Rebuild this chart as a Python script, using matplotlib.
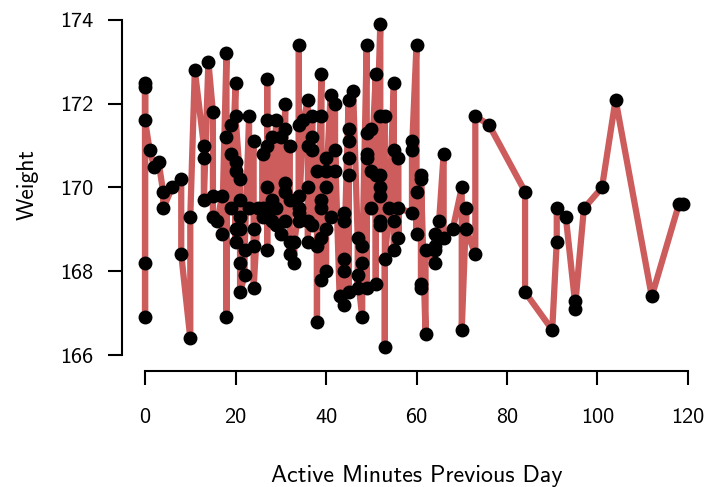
import matplotlib
matplotlib.use("Agg")
import matplotlib.pyplot as plt

plt.rcParams['font.family'] = ['cmss10', 'DejaVu Sans']
plt.rcParams['axes.unicode_minus'] = False

# Active minutes previous day (x) and weight (y), grouped by minute value
minutes_groups = [0, 1, 2, 3, 4, 6, 8, 10, 11, 13, 14, 15, 16, 17, 18, 19, 20, 21, 22, 23, 24,
                  25, 26, 27, 28, 29, 30, 31, 32, 33, 34, 35, 36, 37, 38, 39, 40, 41, 42, 43, 44,
                  45, 46, 47, 48, 49, 50, 51, 52, 53, 54, 55, 56, 59, 60, 61, 62, 64, 65, 66, 68,
                  70, 71, 73, 76, 84, 90, 91, 93, 95, 97, 101, 104, 112, 118, 119]
weight_groups = [
    [172.4, 166.9, 168.2, 172.5, 171.6],
    [170.9],
    [170.5],
    [170.6],
    [169.9, 169.5],
    [170.0],
    [170.2, 168.4],
    [166.4, 169.3],
    [172.8],
    [171.0, 170.7, 169.7],
    [173.0],
    [171.8, 169.8, 169.3],
    [169.2],
    [169.8, 168.9],
    [173.2, 166.9, 171.2],
    [171.5, 170.8, 169.5],
    [172.5, 170.6, 170.4, 169.0, 168.7, 171.7],
    [170.2, 169.7, 169.3, 169.0, 168.2, 167.5],
    [167.9, 168.5],
    [171.7, 169.5],
    [171.1, 169.0, 168.6, 167.6],
    [169.5],
    [169.3, 170.8, 169.5],
    [169.5, 172.6, 168.5, 171.6, 170.0, 171.0, 169.3],
    [171.2, 169.7, 169.2, 169.5],
    [171.6, 169.5, 169.1],
    [171.2, 168.9],
    [172.0, 170.1, 169.2, 171.4, 169.9],
    [171.0, 168.4, 169.7, 168.7],
    [168.2, 168.7],
    [169.5, 173.4, 169.2, 171.5, 169.8, 169.4],
    [171.6],
    [172.1, 168.7, 171.0, 169.2, 170.0],
    [171.7, 169.1, 171.2, 170.9],
    [170.4, 166.8, 168.6],
    [172.7, 167.8, 171.7, 168.8, 169.7, 169.5],
    [170.7, 168.0, 170.4, 169.0, 170.0],
    [172.2, 169.3],
    [172.0, 170.4, 170.9],
    [167.4],
    [169.4, 167.2, 169.2, 168.0, 168.3],
    [172.1, 167.5, 171.4, 170.3, 171.1, 170.7],
    [172.3],
    [168.8, 167.6, 167.9],
    [166.9, 168.6, 168.2],
    [173.4, 167.6, 171.3, 170.8, 170.7],
    [171.4, 169.5, 170.4],
    [172.7, 167.7, 170.3],
    [173.9, 169.1, 171.7, 169.2, 170.3, 169.8, 170.0],
    [171.7, 166.2, 168.3],
    [169.5],
    [172.5, 168.5, 170.9, 169.2],
    [170.7, 168.8, 169.5],
    [169.4, 171.1, 170.9],
    [173.4, 168.9, 169.9],
    [170.3, 167.6, 167.7, 170.2],
    [166.5, 168.5],
    [168.2, 168.9, 168.5, 168.6],
    [169.2],
    [170.8, 168.8],
    [169.0],
    [170.0, 166.6],
    [169.5, 169.0],
    [168.4, 171.7],
    [171.5],
    [169.9, 167.5],
    [166.6],
    [168.7, 169.5],
    [169.3],
    [167.3, 167.1],
    [169.5],
    [170.0],
    [172.1],
    [167.4],
    [169.6],
    [169.6],
]

x_vals = [m for m, ws in zip(minutes_groups, weight_groups) for _ in ws]
y_vals = [w for ws in weight_groups for w in ws]

fig = plt.figure(figsize=(7.14, 4.87), dpi=100)
ax = fig.add_axes([136 / 714, 1 - 357.1 / 487, 561 / 714, 345.5 / 487])

ax.plot(x_vals, y_vals, color='#cd5c5c', linewidth=4.5, zorder=1)
ax.plot(x_vals, y_vals, 'o', color='black', markersize=9, zorder=2)

ax.set_xlim(-2, 122)
ax.set_ylim(165.95, 174.2)
ax.set_xticks([0, 20, 40, 60, 80, 100, 120])
ax.set_yticks([166, 168, 170, 172, 174])

for s in ['top', 'right']:
    ax.spines[s].set_visible(False)
ax.spines['left'].set_position(('outward', 10))
ax.spines['bottom'].set_position(('outward', 10))
ax.spines['left'].set_bounds(166, 174)
ax.spines['bottom'].set_bounds(0, 120)
for s in ['left', 'bottom']:
    ax.spines[s].set_linewidth(1.5)

ax.tick_params(axis='both', length=10, width=1.5, labelsize=16)
ax.tick_params(axis='y', pad=11)
ax.tick_params(axis='x', pad=17)
ax.set_xlabel('Active Minutes Previous Day', fontsize=17.3, labelpad=27)
ax.set_ylabel('Weight', fontsize=17, labelpad=15)

fig.savefig('out.png', dpi=100)
